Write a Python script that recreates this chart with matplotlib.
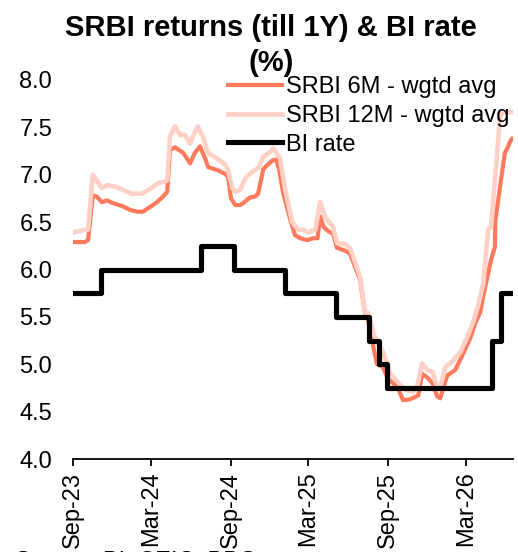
import matplotlib
matplotlib.use('Agg')
import matplotlib.pyplot as plt
import matplotlib.dates as mdates
import pandas as pd

plt.rcParams['font.family'] = ['Liberation Sans', 'DejaVu Sans']

# SRBI 6M weighted average yield (%)
dates_6m = ['2023-09-01', '2023-09-29', '2023-10-06', '2023-10-17', '2023-10-26', '2023-11-07',
            '2023-11-19', '2023-12-03', '2023-12-24', '2024-01-11', '2024-01-28', '2024-02-10',
            '2024-02-27', '2024-03-14', '2024-03-28', '2024-04-07', '2024-04-13', '2024-04-25',
            '2024-05-14', '2024-05-30', '2024-06-10', '2024-06-22', '2024-07-04', '2024-07-11',
            '2024-08-01', '2024-08-19', '2024-08-26', '2024-09-02', '2024-09-12', '2024-09-23',
            '2024-09-30', '2024-10-16', '2024-10-28', '2024-11-04', '2024-11-16', '2024-11-25',
            '2024-12-07', '2024-12-16', '2024-12-23', '2025-01-01', '2025-01-18', '2025-01-29',
            '2025-02-10', '2025-02-26', '2025-03-12', '2025-03-22', '2025-03-28', '2025-04-05',
            '2025-04-17', '2025-04-27', '2025-05-06', '2025-05-24', '2025-06-05', '2025-06-17',
            '2025-06-29', '2025-07-10', '2025-07-17', '2025-07-28', '2025-08-07', '2025-08-21',
            '2025-09-01', '2025-09-23', '2025-10-07', '2025-10-23', '2025-11-11', '2025-11-20',
            '2025-12-02', '2025-12-14', '2025-12-25', '2026-01-01', '2026-01-17', '2026-02-05',
            '2026-02-24', '2026-03-12', '2026-03-24', '2026-04-04', '2026-04-11', '2026-04-29',
            '2026-05-08', '2026-05-09', '2026-05-31', '2026-06-07', '2026-06-12', '2026-06-17']
srbi_6m = [6.29, 6.29, 6.31, 6.78, 6.77, 6.71,
           6.73, 6.70, 6.67, 6.63, 6.61, 6.61,
           6.66, 6.71, 6.77, 6.82, 7.26, 7.29,
           7.23, 7.12, 7.23, 7.30, 7.17, 7.08,
           7.05, 7.01, 6.98, 6.75, 6.68, 6.68,
           6.70, 6.76, 6.77, 6.80, 7.06, 7.10,
           7.15, 7.16, 7.05, 6.81, 6.52, 6.36,
           6.33, 6.31, 6.33, 6.33, 6.56, 6.45,
           6.40, 6.38, 6.23, 6.20, 6.17, 6.03,
           5.89, 5.54, 5.47, 5.22, 5.00, 4.97,
           4.85, 4.76, 4.62, 4.63, 4.67, 4.90,
           4.86, 4.80, 4.66, 4.64, 4.88, 4.94,
           5.12, 5.28, 5.44, 5.55, 5.72, 6.10,
           6.24, 6.52, 7.23, 7.29, 7.35, 7.38]

# SRBI 12M weighted average yield (%)
dates_12m = ['2023-09-01', '2023-09-29', '2023-10-06', '2023-10-17', '2023-10-26', '2023-11-07',
             '2023-11-21', '2023-12-12', '2023-12-26', '2024-01-16', '2024-02-08', '2024-02-27',
             '2024-03-16', '2024-04-02', '2024-04-07', '2024-04-13', '2024-04-25', '2024-05-07',
             '2024-05-18', '2024-05-30', '2024-06-10', '2024-06-17', '2024-06-29', '2024-07-11',
             '2024-08-01', '2024-08-19', '2024-08-26', '2024-09-05', '2024-09-12', '2024-09-23',
             '2024-10-05', '2024-10-21', '2024-11-04', '2024-11-16', '2024-12-02', '2024-12-09',
             '2024-12-25', '2025-01-06', '2025-01-22', '2025-02-05', '2025-02-17', '2025-02-28',
             '2025-03-17', '2025-03-28', '2025-04-08', '2025-04-20', '2025-04-27', '2025-05-06',
             '2025-05-24', '2025-06-05', '2025-06-17', '2025-06-29', '2025-07-10', '2025-07-17',
             '2025-08-02', '2025-08-21', '2025-09-06', '2025-09-23', '2025-10-12', '2025-10-30',
             '2025-11-09', '2025-11-20', '2025-12-02', '2025-12-14', '2025-12-25', '2026-01-01',
             '2026-01-13', '2026-01-29', '2026-02-17', '2026-03-05', '2026-03-19', '2026-03-30',
             '2026-04-11', '2026-04-22', '2026-04-29', '2026-05-20', '2026-05-27', '2026-06-17']
srbi_12m = [6.39, 6.42, 6.42, 7.00, 6.94, 6.86,
            6.89, 6.87, 6.84, 6.80, 6.80, 6.85,
            6.91, 6.93, 6.94, 7.40, 7.51, 7.42,
            7.42, 7.33, 7.45, 7.51, 7.40, 7.23,
            7.17, 7.11, 7.05, 6.86, 6.82, 6.84,
            6.96, 7.03, 7.07, 7.19, 7.24, 7.28,
            7.17, 6.84, 6.50, 6.42, 6.42, 6.39,
            6.42, 6.71, 6.56, 6.49, 6.45, 6.28,
            6.27, 6.23, 6.08, 5.92, 5.55, 5.54,
            5.29, 5.13, 4.91, 4.82, 4.73, 4.71,
            4.78, 5.01, 4.94, 4.92, 4.76, 4.76,
            4.97, 5.03, 5.13, 5.29, 5.45, 5.62,
            5.85, 6.42, 6.45, 7.61, 7.66, 7.66]

# BI policy rate (%), value from each date onward
bi_dates = ['2023-09-01', '2023-11-04', '2024-06-25', '2024-09-10', '2025-01-06', '2025-05-03',
            '2025-07-20', '2025-08-11', '2025-08-30', '2026-05-01', '2026-05-22', '2026-06-19']
bi_rate = [5.75, 6.00, 6.25, 6.00, 5.75, 5.50,
           5.25, 5.00, 4.75, 5.25, 5.75, 5.75]

labels = ['SRBI 6M - wgtd avg', 'SRBI 12M - wgtd avg', 'BI rate']
colors = ['#FF7A5C', '#FFD0C6', 'black']

fig = plt.figure(figsize=(5.18, 5.52), dpi=100)
ax = fig.add_axes([73 / 518, 93 / 552, 440 / 518, 379 / 552])

ax.plot(pd.to_datetime(dates_6m), srbi_6m, color=colors[0], lw=3.0, label=labels[0])
ax.plot(pd.to_datetime(dates_12m), srbi_12m, color=colors[1], lw=3.3, label=labels[1])
ax.plot(pd.to_datetime(bi_dates), bi_rate, color=colors[2], lw=3.7, drawstyle='steps-post',
        label=labels[2])

ax.set_ylim(4.0, 8.0)
ax.set_yticks([4.0, 4.5, 5.0, 5.5, 6.0, 6.5, 7.0, 7.5, 8.0])
ax.yaxis.set_major_formatter(matplotlib.ticker.FormatStrFormatter('%.1f'))
ax.set_xlim(pd.Timestamp('2023-09-01'), pd.Timestamp('2026-06-19'))
ax.xaxis.set_major_locator(mdates.MonthLocator(bymonth=[3, 9]))
ax.xaxis.set_major_formatter(mdates.DateFormatter('%b-%y'))

for s in ['top', 'right', 'left']:
    ax.spines[s].set_visible(False)
ax.spines['bottom'].set_linewidth(1.3)
ax.tick_params(axis='y', length=0, pad=15, labelsize=17)
ax.tick_params(axis='x', length=5, width=1.3, pad=4, labelsize=17, labelrotation=90)

fig.text(0.523, 0.974, 'SRBI returns (till 1Y) & BI rate\n(%)', ha='center', va='top',
         fontsize=21, fontweight='bold', linespacing=1.32)

ax.legend(loc='upper left', bbox_to_anchor=(228 / 518, 1 - 76 / 552), bbox_transform=fig.transFigure,
          frameon=False, fontsize=17, borderpad=0, borderaxespad=0, handlelength=2.3,
          handletextpad=0.15, labelspacing=0.29)

# source line sits at the bottom edge, mostly cut off as in the original
fig.text(15 / 518, 1 / 552, 'Source: BI, CEIC, BBG', ha='left', va='top', fontsize=17)

plt.savefig('out.png', dpi=100)
